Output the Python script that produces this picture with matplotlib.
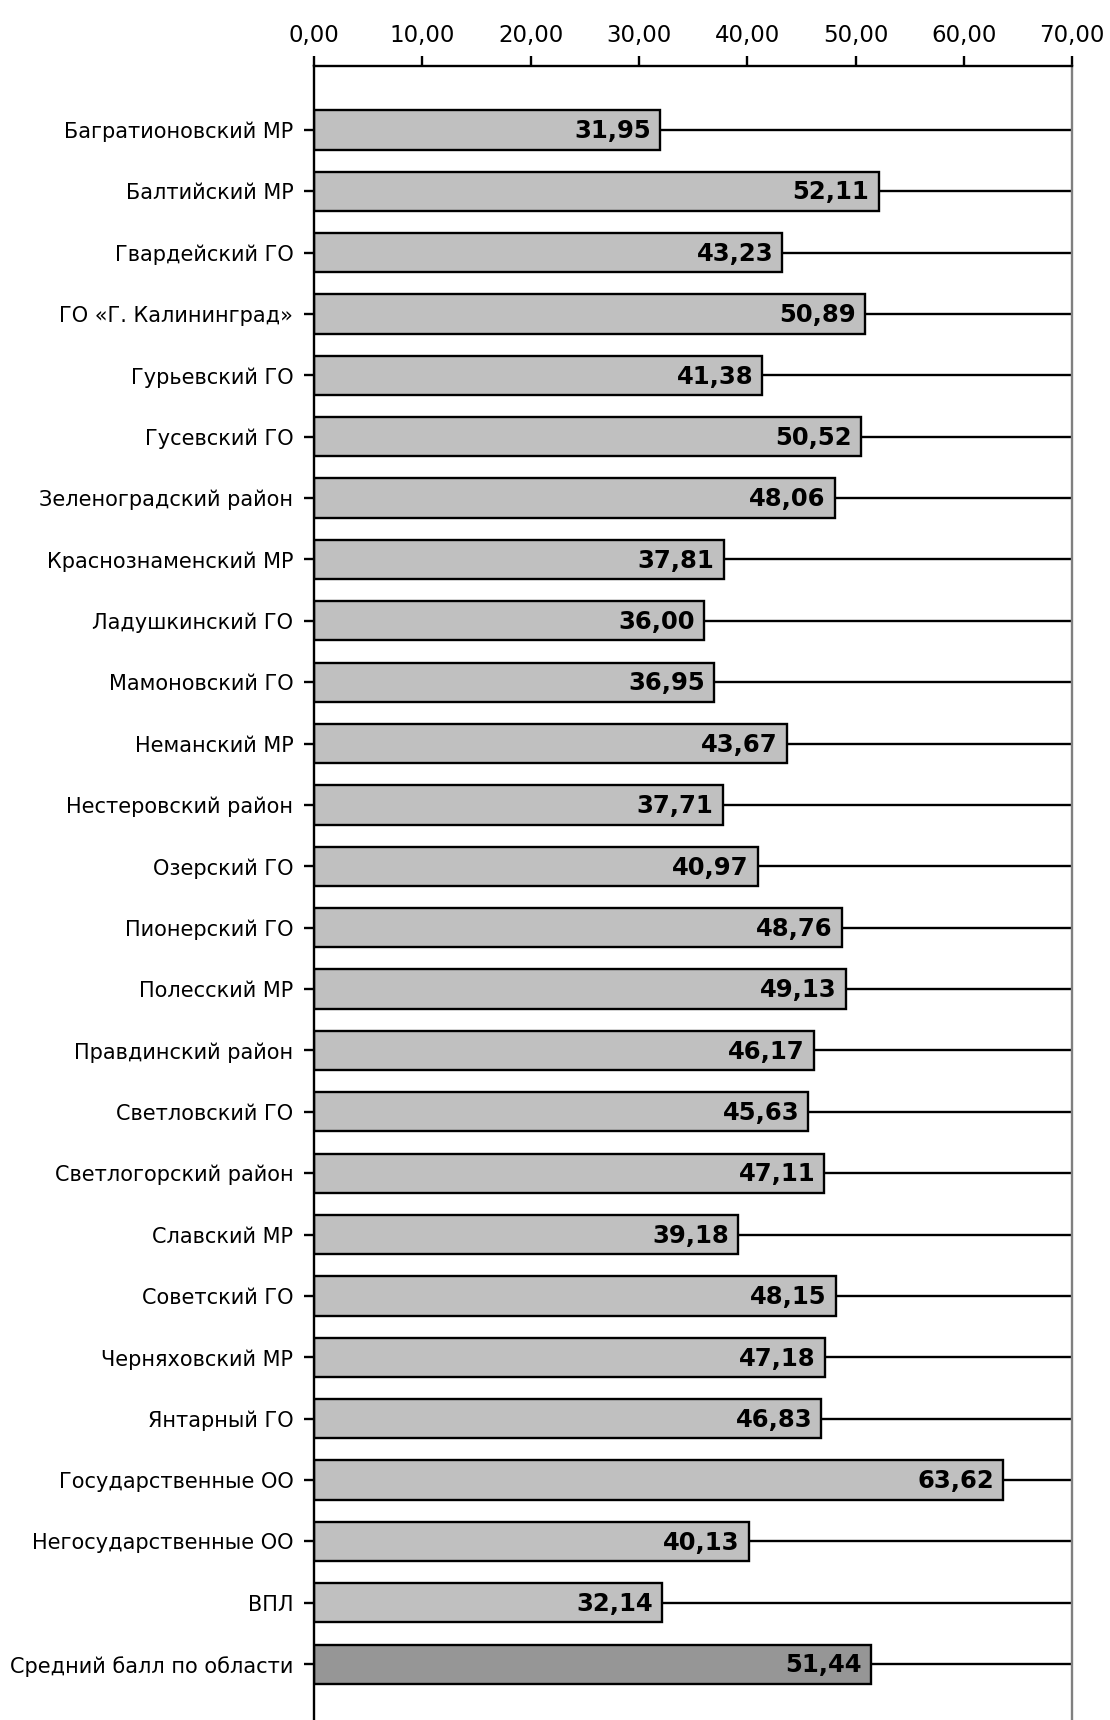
import matplotlib
matplotlib.use("Agg")
import matplotlib.pyplot as plt
import numpy as np

names = [
    "Багратионовский МР", "Балтийский МР", "Гвардейский ГО", "ГО «Г. Калининград»",
    "Гурьевский ГО", "Гусевский ГО", "Зеленоградский район", "Краснознаменский МР",
    "Ладушкинский ГО", "Мамоновский ГО", "Неманский МР", "Нестеровский район",
    "Озерский ГО", "Пионерский ГО", "Полесский МР", "Правдинский район",
    "Светловский ГО", "Светлогорский район", "Славский МР", "Советский ГО",
    "Черняховский МР", "Янтарный ГО", "Государственные ОО", "Негосударственные ОО",
    "ВПЛ", "Средний балл по области",
]
scores = [
    31.95, 52.11, 43.23, 50.89, 41.38, 50.52, 48.06, 37.81, 36.00, 36.95,
    43.67, 37.71, 40.97, 48.76, 49.13, 46.17, 45.63, 47.11, 39.18, 48.15,
    47.18, 46.83, 63.62, 40.13, 32.14, 51.44,
]
xticks = [0, 10, 20, 30, 40, 50, 60, 70]

plt.rcParams["font.family"] = ["DejaVu Sans"]

fig = plt.figure(figsize=(11.1, 17.2), dpi=100)
ax = fig.add_axes([0.283, 0.0, 0.683, 0.9616])

y = np.arange(len(names))
colors = ["#c0c0c0"] * (len(names) - 1) + ["#969696"]

# lines from axis to right edge behind the bars
ax.hlines(y, 0, 70, color="black", lw=1.7, zorder=1)
ax.barh(y, scores, height=0.64, color=colors, edgecolor="black", lw=1.7, zorder=2)

for yi, v in zip(y, scores):
    ax.text(v - 0.85, yi + 0.02, f"{v:.2f}".replace(".", ","), ha="right", va="center",
            fontsize=17.5, fontweight="bold", zorder=3)

ax.set_xlim(0, 70)
ax.set_ylim(25.91, -1.04)
ax.xaxis.tick_top()
ax.set_xticks(xticks)
ax.set_xticklabels([f"{t:.2f}".replace(".", ",") for t in xticks], fontsize=16.5)
ax.set_yticks(y)
ax.set_yticklabels(names, fontsize=15)
ax.tick_params(axis="x", direction="out", length=7, width=1.7, pad=7)
ax.tick_params(axis="y", direction="out", length=7, width=1.7, pad=8)

ax.spines["bottom"].set_visible(False)
ax.spines["top"].set_linewidth(1.7)
ax.spines["left"].set_linewidth(1.7)
ax.spines["right"].set_color("#808080")
ax.spines["right"].set_linewidth(1.7)

fig.savefig("out.png", dpi=100)
